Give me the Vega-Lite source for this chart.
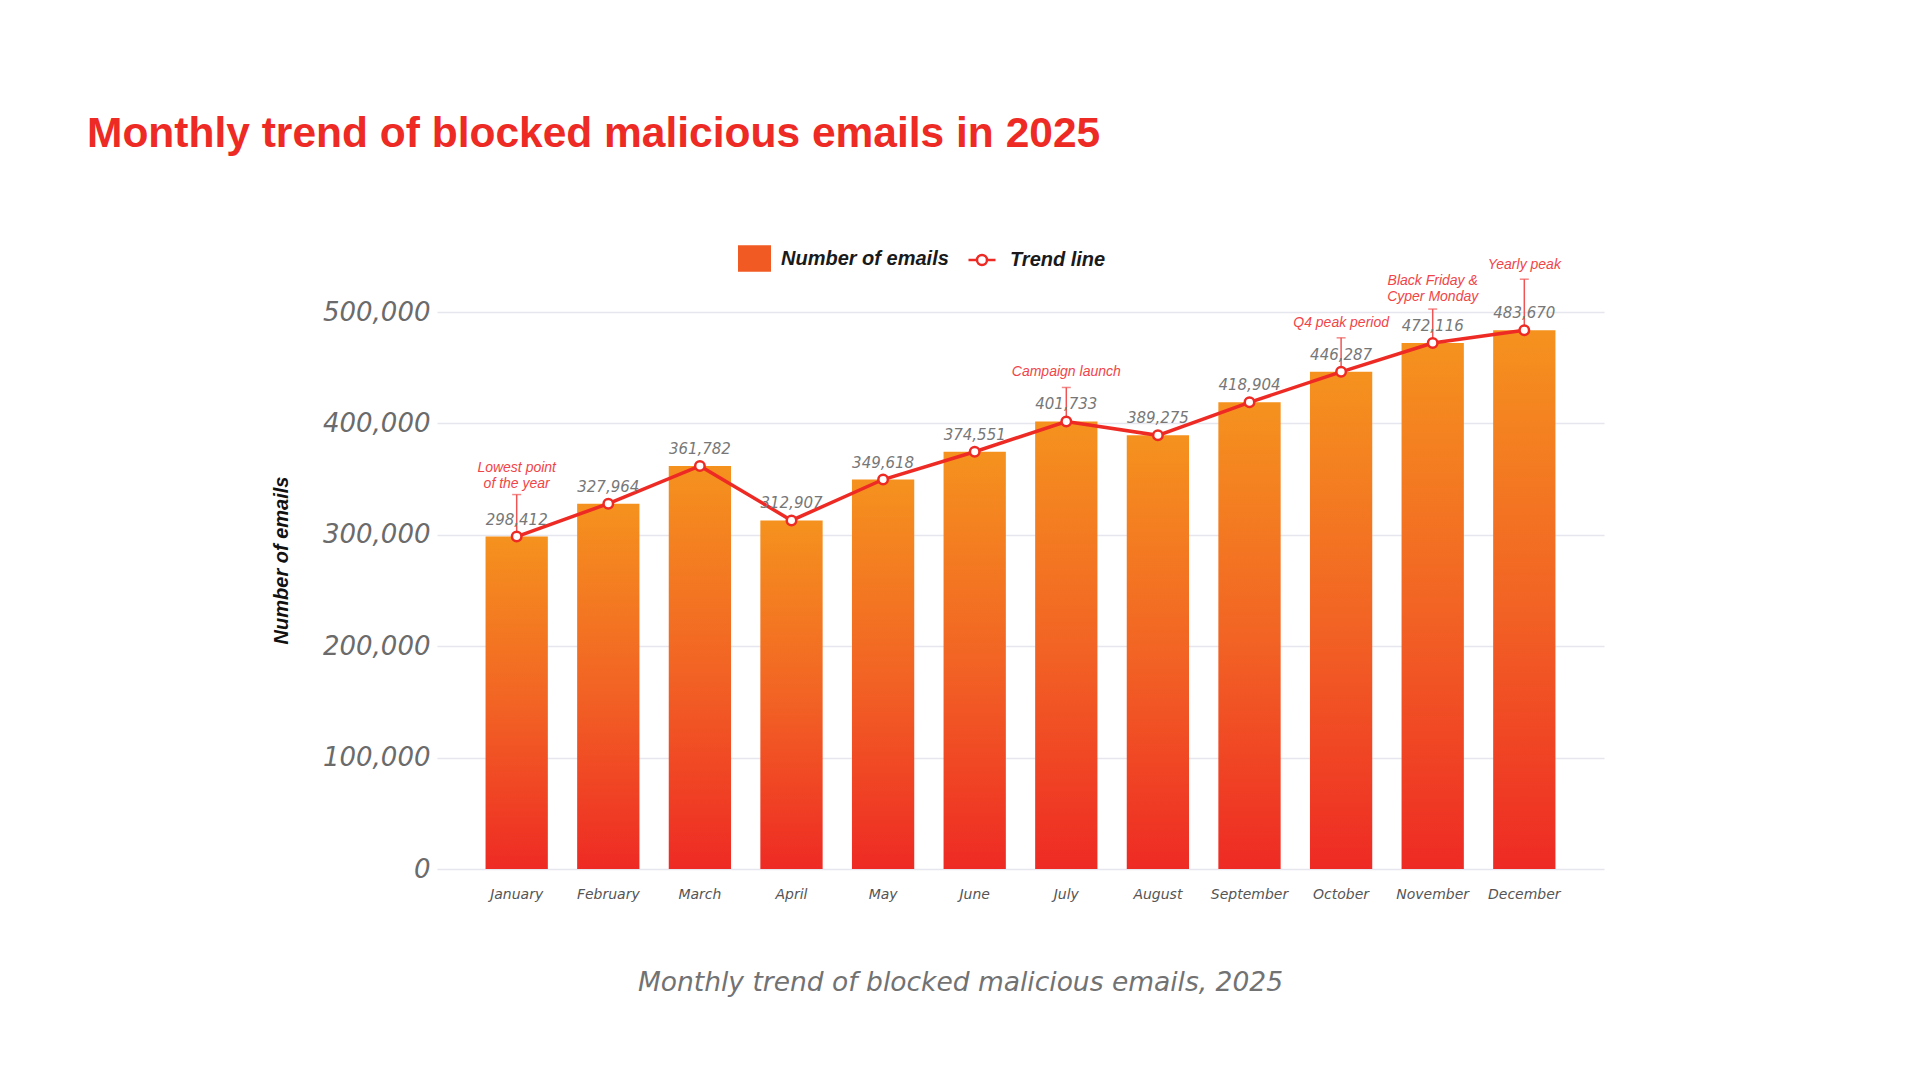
{
  "$schema": "https://vega.github.io/schema/vega-lite/v6.json",
  "autosize": {"type": "none"},
  "width": 1167,
  "height": 557,
  "padding": {"left": 437, "top": 312, "right": 316, "bottom": 211},
  "background": "#ffffff",
  "config": {"view": {"stroke": null}},
  "title": {
    "text": "Monthly trend of blocked malicious emails in 2025",
    "anchor": "start",
    "frame": "group",
    "dx": -350,
    "offset": 87,
    "font": "Liberation Sans",
    "fontSize": 42.5,
    "fontWeight": "bold",
    "color": "#ee2a24"
  },
  "datasets": {
    "emails": [
      {"month": "January", "emails": 298412, "note": "Lowest point\nof the year"},
      {"month": "February", "emails": 327964, "note": null},
      {"month": "March", "emails": 361782, "note": null},
      {"month": "April", "emails": 312907, "note": null},
      {"month": "May", "emails": 349618, "note": null},
      {"month": "June", "emails": 374551, "note": null},
      {"month": "July", "emails": 401733, "note": "Campaign launch"},
      {"month": "August", "emails": 389275, "note": null},
      {"month": "September", "emails": 418904, "note": null},
      {"month": "October", "emails": 446287, "note": "Q4 peak period"},
      {"month": "November", "emails": 472116, "note": "Black Friday &\nCyper Monday"},
      {"month": "December", "emails": 483670, "note": "Yearly peak"}
    ],
    "series": [
      {"series": "Number of emails"},
      {"series": "Trend line"}
    ]
  },
  "data": {"name": "emails"},
  "encoding": {
    "x": {
      "field": "month",
      "type": "nominal",
      "sort": null,
      "scale": {"paddingInner": 0.32, "paddingOuter": 0.53},
      "axis": {
        "title": "Monthly trend of blocked malicious emails, 2025",
        "titleFont": "DejaVu Sans",
        "titleFontSize": 26.5,
        "titleFontStyle": "italic",
        "titleFontWeight": 300,
        "titleColor": "#727272",
        "titlePadding": 68,
        "titleX": 523,
        "labelAngle": 0,
        "labelFont": "DejaVu Sans",
        "labelFontSize": 14,
        "labelFontStyle": "italic",
        "labelColor": "#555555",
        "labelPadding": 18,
        "domain": false,
        "ticks": false,
        "grid": false
      }
    },
    "y": {
      "field": "emails",
      "type": "quantitative",
      "scale": {"domain": [0, 500000], "nice": false},
      "axis": {
        "title": "Number of emails",
        "titleFont": "Liberation Sans",
        "titleFontSize": 20,
        "titleFontStyle": "italic",
        "titleFontWeight": 600,
        "titleColor": "#111111",
        "titlePadding": 31,
        "titleY": 248,
        "values": [0, 100000, 200000, 300000, 400000, 500000],
        "format": ",.0f",
        "labelFont": "DejaVu Sans",
        "labelFontSize": 26,
        "labelFontStyle": "italic",
        "labelColor": "#6b6b6b",
        "labelPadding": 7,
        "domain": false,
        "ticks": false,
        "gridColor": "#e6e6ee",
        "gridWidth": 1.5
      }
    }
  },
  "layer": [
    {
      "mark": {
        "type": "bar",
        "color": {
          "gradient": "linear",
          "x1": 0, "y1": 0, "x2": 0, "y2": 1,
          "stops": [
            {"offset": 0, "color": "#f5921e"},
            {"offset": 0.5, "color": "#f26424"},
            {"offset": 1, "color": "#ee2a24"}
          ]
        }
      }
    },
    {
      "mark": {"type": "line", "color": "#ee2a24", "strokeWidth": 3.5}
    },
    {
      "transform": [{"filter": "datum.month == 'January'"}],
      "mark": {"type": "rule", "color": "#f05555", "strokeWidth": 1.5, "y2Offset": -42},
      "encoding": {"y2": {"field": "emails"}}
    },
    {
      "transform": [{"filter": "datum.month == 'January'"}],
      "mark": {"type": "tick", "orient": "horizontal", "color": "#f05555", "size": 9, "thickness": 1.5, "yOffset": -42}
    },
    {
      "transform": [{"filter": "datum.month == 'July' || datum.month == 'October' || datum.month == 'November'"}],
      "mark": {"type": "rule", "color": "#f05555", "strokeWidth": 1.5, "y2Offset": -34},
      "encoding": {"y2": {"field": "emails"}}
    },
    {
      "transform": [{"filter": "datum.month == 'July' || datum.month == 'October' || datum.month == 'November'"}],
      "mark": {"type": "tick", "orient": "horizontal", "color": "#f05555", "size": 9, "thickness": 1.5, "yOffset": -34}
    },
    {
      "transform": [{"filter": "datum.month == 'December'"}],
      "mark": {"type": "rule", "color": "#f05555", "strokeWidth": 1.5, "y2Offset": -51},
      "encoding": {"y2": {"field": "emails"}}
    },
    {
      "transform": [{"filter": "datum.month == 'December'"}],
      "mark": {"type": "tick", "orient": "horizontal", "color": "#f05555", "size": 9, "thickness": 1.5, "yOffset": -51}
    },
    {
      "mark": {"type": "point", "filled": true, "fill": "#ffffff", "stroke": "#ee2a24", "strokeWidth": 2.5, "size": 90, "opacity": 1}
    },
    {
      "mark": {"type": "text", "baseline": "bottom", "dy": -9, "font": "DejaVu Sans", "fontSize": 15, "fontStyle": "italic", "color": "#777777"},
      "encoding": {"text": {"field": "emails", "type": "quantitative", "format": ",.0f"}}
    },
    {
      "transform": [{"filter": "datum.month == 'July' || datum.month == 'October'"}],
      "mark": {"type": "text", "baseline": "bottom", "dy": -42, "font": "Liberation Sans", "fontSize": 14, "fontStyle": "italic", "color": "#f04548"},
      "encoding": {"text": {"field": "note"}}
    },
    {
      "transform": [{"filter": "datum.month == 'January'"}],
      "mark": {"type": "text", "baseline": "bottom", "dy": -62, "lineBreak": "\n", "lineHeight": 16, "font": "Liberation Sans", "fontSize": 14, "fontStyle": "italic", "color": "#f04548"},
      "encoding": {"text": {"field": "note"}}
    },
    {
      "transform": [{"filter": "datum.month == 'November'"}],
      "mark": {"type": "text", "baseline": "bottom", "dy": -55, "lineBreak": "\n", "lineHeight": 16, "font": "Liberation Sans", "fontSize": 14, "fontStyle": "italic", "color": "#f04548"},
      "encoding": {"text": {"field": "note"}}
    },
    {
      "transform": [{"filter": "datum.month == 'December'"}],
      "mark": {"type": "text", "baseline": "bottom", "dy": -58, "font": "Liberation Sans", "fontSize": 14, "fontStyle": "italic", "color": "#f04548"},
      "encoding": {"text": {"field": "note"}}
    },
    {
      "data": {"name": "series"},
      "transform": [{"filter": "datum.series == 'Number of emails'"}],
      "mark": {"type": "square", "filled": true, "opacity": 0},
      "encoding": {
        "x": null,
        "y": null,
        "fill": {
          "field": "series",
          "type": "nominal",
          "scale": {
            "domain": ["Number of emails"],
            "range": ["#f15a23"]
          },
          "legend": {
            "orient": "none",
            "legendX": 301,
            "legendY": -70,
            "direction": "horizontal",
            "title": null,
            "padding": 0,
            "symbolType": "M-1,-0.8H1V0.8H-1Z",
            "symbolSize": 1089,
            "symbolOpacity": 1,
            "symbolStrokeWidth": 0,
            "labelFont": "Liberation Sans",
            "labelFontSize": 20,
            "labelFontStyle": "italic",
            "labelFontWeight": 600,
            "labelColor": "#1a1a1a",
            "labelLimit": 400,
            "labelOffset": 10
          }
        }
      }
    },
    {
      "data": {"name": "series"},
      "transform": [{"filter": "datum.series == 'Trend line'"}],
      "mark": {"type": "point", "filled": false, "color": "#ee2a24", "strokeWidth": 2.5, "opacity": 0},
      "encoding": {
        "x": null,
        "y": null,
        "shape": {
          "field": "series",
          "type": "nominal",
          "scale": {
            "domain": ["Trend line"],
            "range": ["M-1,0H-0.37M0.37,0H1M0.37,0A0.37,0.37,0,1,1,-0.37,0A0.37,0.37,0,1,1,0.37,0"]
          },
          "legend": {
            "orient": "none",
            "legendX": 530,
            "legendY": -67,
            "direction": "horizontal",
            "title": null,
            "padding": 0,
            "symbolSize": 729,
            "symbolOpacity": 1,
            "symbolStrokeWidth": 2.5,
            "symbolStrokeColor": "#ee2a24",
            "labelFont": "Liberation Sans",
            "labelFontSize": 20,
            "labelFontStyle": "italic",
            "labelFontWeight": 600,
            "labelColor": "#1a1a1a",
            "labelLimit": 400,
            "labelOffset": 13
          }
        }
      }
    }
  ]
}
